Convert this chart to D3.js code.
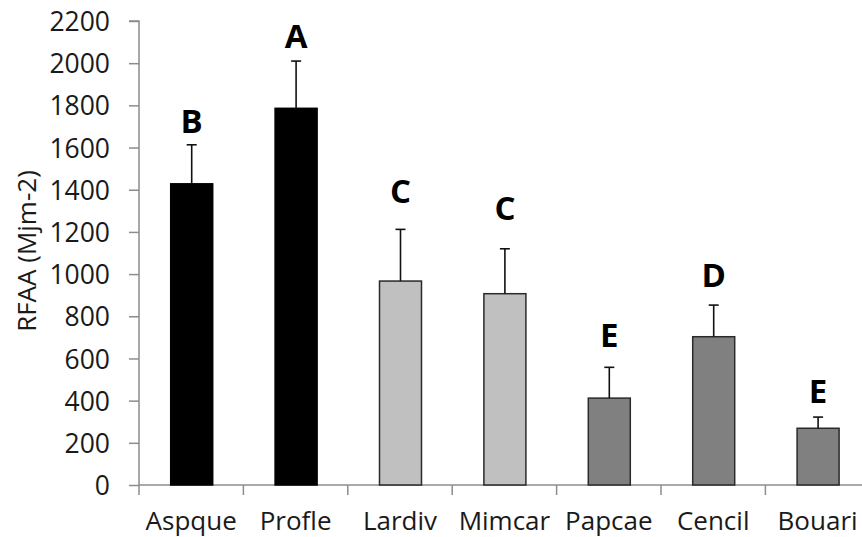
<!DOCTYPE html>
<html><head><meta charset="utf-8">
<script src="https://cdn.jsdelivr.net/npm/d3@7"></script>
<style>body{margin:0;background:#fff}svg{display:block}</style>
</head><body><svg id="c" width="862" height="537"></svg>
<script>
const categories = ["Aspque","Profle","Lardiv","Mimcar","Papcae","Cencil","Bouari"];
const values = [1428, 1786, 967, 907, 412, 703, 269];
const errors = [185, 224, 245, 213, 146, 150, 53];
const letters = ["B","A","C","C","E","D","E"];
const letterLevels = [1669, 2072, 1336, 1256, 656, 940, 389];
const groups = ["black","black","light","light","dark","dark","dark"];
const yTicks = [0,200,400,600,800,1000,1200,1400,1600,1800,2000,2200];
const fills = {black:"#000000", light:"#c0c0c0", dark:"#808080"};

const svg = d3.select("#c");
const x0 = 139, xEnd = 139 + 7*104.4, yTop = 21, yBot = 485;
const y = d3.scaleLinear().domain([0,2200]).range([yBot, yTop]);
const xb = d3.scaleBand().domain(categories).range([x0, xEnd]);

const font = "'Open Sans', 'Liberation Sans', Arial, sans-serif";

// y axis
const ya = svg.append("g").attr("transform",`translate(${x0},0)`)
  .call(d3.axisLeft(y).tickValues(yTicks).tickSize(10).tickPadding(19).tickFormat(d3.format("d")));
ya.select(".domain").attr("stroke","#8c8c8c").attr("stroke-width",1.5).attr("d",`M-10,${yTop}H0V${yBot}`);
ya.selectAll(".tick line").attr("stroke","#8c8c8c").attr("stroke-width",1.5);
ya.selectAll(".tick text").attr("font-family",font).attr("font-size",26.5).attr("fill","#1a1a1a").attr("dy","0.36em");

// x axis
const xa = svg.append("g").attr("transform",`translate(0,${yBot})`)
  .call(d3.axisBottom(xb).tickSize(0).tickPadding(0));
xa.select(".domain").attr("stroke","#8c8c8c").attr("stroke-width",1.5).attr("d",`M${x0},0H${xEnd}`);
xa.selectAll(".tick text").remove();
xa.selectAll(".tick line").remove();
categories.concat(["_end"]).forEach((c,i)=>{
  const px = x0 + i*xb.bandwidth();
  xa.append("line").attr("x1",px).attr("x2",px).attr("y1",0).attr("y2",10).attr("stroke","#8c8c8c").attr("stroke-width",1.5);
});
svg.append("g").selectAll("text").data(categories).join("text")
  .attr("x",d=>xb(d)+xb.bandwidth()/2).attr("y",529.5)
  .attr("text-anchor","middle").attr("font-family",font).attr("font-size",26).attr("fill","#1a1a1a")
  .text(d=>d);

// bars
const bw = 42;
svg.append("g").selectAll("rect").data(categories).join("rect")
  .attr("x",(d)=>xb(d)+xb.bandwidth()/2 - bw/2 + 0.5)
  .attr("y",(d,i)=>y(values[i]))
  .attr("width",bw).attr("height",(d,i)=>yBot - y(values[i]))
  .attr("fill",(d,i)=>fills[groups[i]])
  .attr("stroke",(d,i)=>groups[i]==="black"?"#000":"#2a2a2a").attr("stroke-width",1.5);

// error bars
const eg = svg.append("g").attr("stroke","#111").attr("stroke-width",1.6);
categories.forEach((c,i)=>{
  const cx = xb(c)+xb.bandwidth()/2 + 0.5;
  eg.append("line").attr("x1",cx).attr("x2",cx).attr("y1",y(values[i])).attr("y2",y(values[i]+errors[i]));
  eg.append("line").attr("x1",cx-5).attr("x2",cx+5).attr("y1",y(values[i]+errors[i])).attr("y2",y(values[i]+errors[i]));
});

// letters
svg.append("g").selectAll("text").data(categories).join("text")
  .attr("x",d=>xb(d)+xb.bandwidth()/2 + 0.5)
  .attr("y",(d,i)=>y(letterLevels[i]))
  .attr("text-anchor","middle").attr("font-family",font).attr("font-weight","bold")
  .attr("font-size",33).attr("fill","#000")
  .text((d,i)=>letters[i]);

// y label
svg.append("text").attr("transform","translate(36,251) rotate(-90)")
  .attr("text-anchor","middle").attr("font-family",font).attr("font-size",26).attr("fill","#1a1a1a")
  .text("RFAA (Mjm-2)");
</script></body></html>
